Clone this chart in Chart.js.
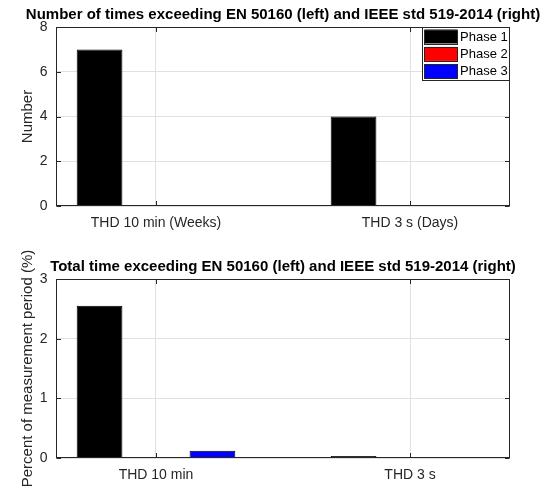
<!DOCTYPE html>
<html><head><meta charset="utf-8">
<script src="https://cdn.jsdelivr.net/npm/chart.js@4/dist/chart.umd.min.js"></script>
<style>
html,body{margin:0;padding:0;background:#fff;width:550px;height:493px;overflow:hidden}
canvas{position:absolute;left:0}
#c1{top:0}
#c2{top:232px}
</style></head><body>
<canvas id="c1" width="550" height="250"></canvas>
<canvas id="c2" width="550" height="261"></canvas>
<script>
// ---- data ----
const seriesLabels = ['Phase 1', 'Phase 2', 'Phase 3'];
const seriesColors = ['#000000', '#ff0000', '#0000ff'];

const topTitle = 'Number of times exceeding EN 50160 (left) and IEEE std 519-2014 (right)';
const topYLabel = 'Number';
const topCategories = ['THD 10 min (Weeks)', 'THD 3 s (Days)'];
const topPhase1 = [7, 4];
const topPhase2 = [0, 0];
const topPhase3 = [0, 0];
const topYTicks = [0, 2, 4, 6, 8];

const bottomTitle = 'Total time exceeding EN 50160 (left) and IEEE std 519-2014 (right)';
const bottomYLabel = 'Percent of measurement period (%)';
const bottomCategories = ['THD 10 min', 'THD 3 s'];
const bottomPhase1 = [2.55, 0.035];
const bottomPhase2 = [0, 0];
const bottomPhase3 = [0.12, 0];
const bottomYTicks = [0, 1, 2, 3];

// ---- style ----
const FONT = "'Liberation Sans', Arial, Helvetica, sans-serif";
const AX = '#262626';
const GRID = '#e0e0e0';

const matlabAxes = {
  id: 'matlabAxes',
  afterDatasetsDraw(chart, args, opts) {
    const ctx = chart.ctx, a = chart.chartArea;
    const xs = chart.scales.x, ys = chart.scales.y;
    ctx.save();
    ctx.strokeStyle = AX;
    ctx.lineWidth = 1;
    const L = Math.round(a.left) + 0.5, R = Math.round(a.right) - 0.5;
    const T = Math.round(a.top) + 0.5, B = Math.round(a.bottom) - 0.5;
    const tl = 4.5;
    ctx.beginPath();
    xs.ticks.forEach(t => {
      const px = Math.round(xs.getPixelForValue(t.value)) + 0.5;
      ctx.moveTo(px, B); ctx.lineTo(px, B - tl);
      ctx.moveTo(px, T); ctx.lineTo(px, T + tl);
    });
    ys.ticks.forEach(t => {
      const py = Math.round(ys.getPixelForValue(t.value)) + 0.5;
      ctx.moveTo(L, py); ctx.lineTo(L + tl, py);
      ctx.moveTo(R, py); ctx.lineTo(R - tl, py);
    });
    ctx.stroke();
    ctx.strokeRect(L, T, R - L, B - T);

    // title
    ctx.fillStyle = '#000';
    ctx.font = 'bold 15px ' + FONT;
    ctx.textAlign = 'center';
    ctx.textBaseline = 'middle';
    ctx.fillText(opts.title, (a.left + a.right) / 2, a.top - opts.titleGap);

    // legend
    if (opts.legend) {
      const lx = 422, lw = Math.round(a.right) - 0.5 - lx;
      const ly = T, lh = 53;
      ctx.fillStyle = '#fff';
      ctx.fillRect(lx, ly, lw, lh);
      ctx.strokeStyle = AX;
      ctx.strokeRect(lx + 0.5, ly, lw - 0.5, lh);
      ctx.font = '13px ' + FONT;
      ctx.textAlign = 'left';
      chart.data.datasets.forEach((ds, i) => {
        const cy = ly + 9 + i * 17.4;
        ctx.fillStyle = ds.backgroundColor;
        ctx.fillRect(424.5, cy - 7, 33, 14);
        ctx.strokeStyle = AX;
        ctx.strokeRect(424.5, Math.round(cy - 7) + 0.5, 33, 14);
        ctx.fillStyle = '#000';
        ctx.fillText(ds.label, 460, cy + 0.5);
      });
    }

    // y label
    ctx.fillStyle = AX;
    ctx.font = '15px ' + FONT;
    ctx.textAlign = 'center';
    ctx.textBaseline = 'middle';
    ctx.translate(27.5, (a.top + a.bottom) / 2);
    ctx.rotate(-Math.PI / 2);
    ctx.fillText(opts.yLabel, 0, 0);
    ctx.restore();
  }
};

function makeChart(id, cats, p1, p2, p3, yTicks, yMax, title, yLabel, topPad, xHeight, legend) {
  const vals = [p1, p2, p3];
  return new Chart(document.getElementById(id), {
    type: 'bar',
    data: {
      datasets: vals.map((v, k) => ({
        label: seriesLabels[k],
        data: cats.map((c, i) => ({x: i + 1, y: v[i]})),
        backgroundColor: seriesColors[k],
        borderColor: '#000000',
        borderWidth: 1,
        categoryPercentage: 0.6667,
        barPercentage: 0.81
      }))
    },
    options: {
      responsive: false,
      animation: false,
      devicePixelRatio: 1,
      layout: {padding: {left: 0, right: 40, top: topPad, bottom: 0}},
      plugins: {
        legend: {display: false},
        title: {display: false},
        tooltip: {enabled: false},
        matlabAxes: {title: title, yLabel: yLabel, titleGap: 12.5, legend: legend}
      },
      scales: {
        x: {
          type: 'linear',
          min: 0.6063, max: 2.3937,
          offset: false,
          afterBuildTicks: s => { s.ticks = cats.map((c, i) => ({value: i + 1})); },
          afterFit: s => { s.height = xHeight; s.paddingLeft = 0; s.paddingRight = 0; },
          grid: {color: GRID, drawTicks: false, offset: false, lineWidth: 1},
          border: {display: false},
          ticks: {
            padding: 8.6, color: AX, autoSkip: false, maxRotation: 0,
            font: {family: FONT, size: 14},
            callback: (v, i) => cats[i]
          }
        },
        y: {
          min: 0, max: yMax,
          afterBuildTicks: s => { s.ticks = yTicks.map(v => ({value: v})); },
          afterFit: s => { s.width = 56; s.paddingTop = 0; s.paddingBottom = 0; },
          grid: {color: GRID, drawTicks: false, lineWidth: 1},
          border: {display: false},
          ticks: {padding: 8.5, color: AX, font: {family: FONT, size: 14}}
        }
      }
    },
    plugins: [matlabAxes]
  });
}

makeChart('c1', topCategories, topPhase1, topPhase2, topPhase3, topYTicks, 8, topTitle, topYLabel, 27, 44, true);
makeChart('c2', bottomCategories, bottomPhase1, bottomPhase2, bottomPhase3, bottomYTicks, 3, bottomTitle, bottomYLabel, 47, 35, false);
</script>
</body></html>
